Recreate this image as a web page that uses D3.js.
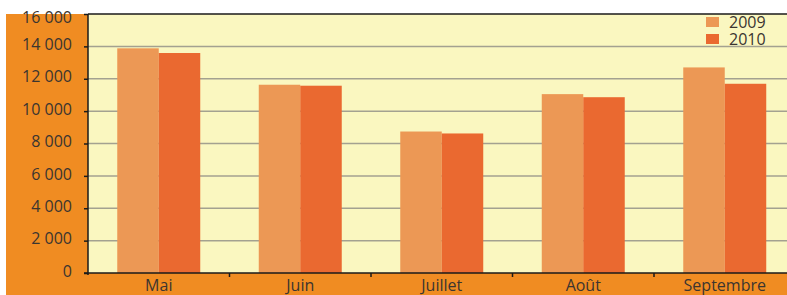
<!DOCTYPE html>
<html>
<head>
<meta charset="utf-8">
<script src="https://cdn.jsdelivr.net/npm/d3@7"></script>
<style>
  body { margin: 0; background: #fff; }
  text { font-family: "Open Sans", sans-serif; fill: #3b3530; }
</style>
</head>
<body>
<svg id="chart" width="787" height="295"></svg>
<script>
const months = ["Mai", "Juin", "Juillet", "Août", "Septembre"];
const series = ["2009", "2010"];
const values2009 = [13880, 11630, 8740, 11050, 12700];
const values2010 = [13590, 11570, 8620, 10860, 11690];
const yTicks = [0, 2000, 4000, 6000, 8000, 10000, 12000, 14000, 16000];
const colors = ["#ec9855", "#ea6930"];

const svg = d3.select("#chart");
const plotLeft = 88, plotTop = 14, plotBottom = 273, plotRight = 787;

// fond orange + zone de tracé
svg.append("rect").attr("x", 6).attr("y", plotTop).attr("width", 787 - 6).attr("height", 295 - plotTop).attr("fill", "#f08c22");
svg.append("rect").attr("x", plotLeft).attr("y", plotTop).attr("width", plotRight - plotLeft).attr("height", plotBottom - plotTop).attr("fill", "#faf7c0");

const y = d3.scaleLinear().domain([0, 16000]).range([plotBottom, plotTop]);
const x0 = d3.scaleBand().domain(months).range([plotLeft, plotLeft + 141.5 * 5]);
const x1 = d3.scaleBand().domain(series).range([0, x0.bandwidth()]).paddingOuter(0.705);

const fmt = v => d3.format(",")(v).replace(/,/g, " ");

// grille
svg.append("g").selectAll("line").data(yTicks.filter(d => d > 0 && d < 16000)).enter()
  .append("line")
  .attr("x1", plotLeft).attr("x2", plotRight)
  .attr("y1", d => y(d)).attr("y2", d => y(d))
  .attr("stroke", "#a3a190").attr("stroke-width", 1.5);

// barres
const rows = months.map((m, i) => ({ month: m, vals: [values2009[i], values2010[i]] }));
svg.append("g").selectAll("g").data(rows).enter()
  .append("g")
  .attr("transform", d => `translate(${x0(d.month)},0)`)
  .selectAll("rect")
  .data(d => d.vals.map((v, j) => ({ key: series[j], v, j })))
  .enter().append("rect")
  .attr("x", d => x1(d.key))
  .attr("width", x1.bandwidth())
  .attr("y", d => y(d.v))
  .attr("height", d => y(0) - y(d.v))
  .attr("fill", d => colors[d.j]);

// axe Y
const yAxis = svg.append("g").attr("transform", `translate(${plotLeft},0)`)
  .call(d3.axisLeft(y).tickValues(yTicks).tickFormat(fmt).tickSize(4).tickPadding(12));
yAxis.select(".domain").remove();
yAxis.selectAll("line").attr("stroke", "#1a1a1a").attr("stroke-width", 1.5);
yAxis.selectAll("text").attr("font-size", 16).attr("fill", "#3b3530").attr("dy", "0.2em")
  .style("font-family", "'Open Sans', sans-serif");
// le libellé du haut est descendu pour rester dans le fond orange
yAxis.selectAll(".tick").filter(d => d === 16000).select("text").attr("dy", "0.55em");

// axe X
const xAxis = svg.append("g").attr("transform", `translate(0,${plotBottom})`)
  .call(d3.axisBottom(x0).tickSize(0).tickPadding(7));
xAxis.select(".domain").remove();
xAxis.selectAll("text").attr("font-size", 16).attr("fill", "#3b3530")
  .style("font-family", "'Open Sans', sans-serif");
svg.append("g").selectAll("line").data(months.slice(1)).enter()
  .append("line")
  .attr("x1", d => x0(d)).attr("x2", d => x0(d))
  .attr("y1", plotBottom).attr("y2", plotBottom + 4)
  .attr("stroke", "#1a1a1a").attr("stroke-width", 1.5);

// cadre
svg.append("line").attr("x1", plotLeft).attr("x2", plotRight).attr("y1", plotTop).attr("y2", plotTop).attr("stroke", "#1a1a1a").attr("stroke-width", 1.5);
svg.append("line").attr("x1", plotLeft).attr("x2", plotLeft).attr("y1", plotTop).attr("y2", plotBottom + 2).attr("stroke", "#1a1a1a").attr("stroke-width", 1.5);
svg.append("line").attr("x1", plotLeft - 4).attr("x2", plotRight).attr("y1", plotBottom).attr("y2", plotBottom).attr("stroke", "#1a1a1a").attr("stroke-width", 1.5);

// légende
const legend = svg.append("g").selectAll("g").data(series).enter()
  .append("g")
  .attr("transform", (d, i) => `translate(706,${17 + i * 17})`);
legend.append("rect").attr("width", 13).attr("height", 10).attr("fill", (d, i) => colors[i]);
legend.append("text").attr("x", 23).attr("y", 5).attr("dy", "0.35em")
  .attr("font-size", 16).text(d => d);
</script>
</body>
</html>
